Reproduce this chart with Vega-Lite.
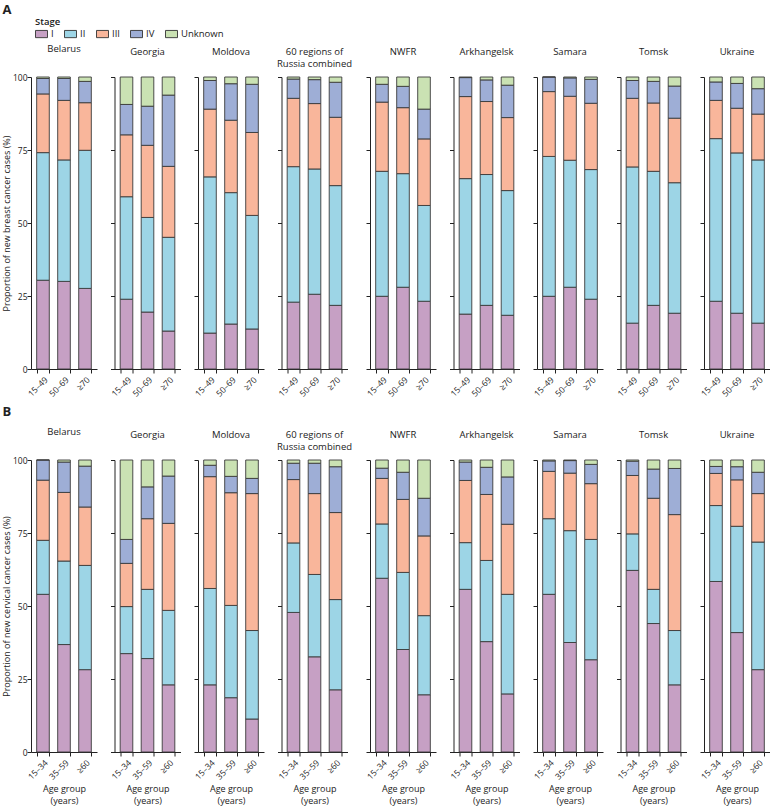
{
"$schema": "https://vega.github.io/schema/vega-lite/v6.json",
"padding": {"left": 2, "top": 4, "right": 0, "bottom": 0},
"datasets": {
"breast": [
{"r":"Belarus","a":"15–49","I":30.4,"II":43.7,"III":20.1,"IV":5.3,"Unknown":0.5},
{"r":"Belarus","a":"50–69","I":30.0,"II":41.6,"III":20.4,"IV":7.5,"Unknown":0.5},
{"r":"Belarus","a":"≥70","I":27.6,"II":47.3,"III":16.3,"IV":7.3,"Unknown":1.5},
{"r":"Georgia","a":"15–49","I":23.9,"II":35.1,"III":21.2,"IV":10.4,"Unknown":9.4},
{"r":"Georgia","a":"50–69","I":19.5,"II":32.4,"III":24.7,"IV":13.4,"Unknown":10.0},
{"r":"Georgia","a":"≥70","I":13.0,"II":32.1,"III":24.3,"IV":24.4,"Unknown":6.2},
{"r":"Moldova","a":"15–49","I":12.3,"II":53.5,"III":23.2,"IV":9.8,"Unknown":1.2},
{"r":"Moldova","a":"50–69","I":15.4,"II":45.0,"III":24.8,"IV":12.5,"Unknown":2.3},
{"r":"Moldova","a":"≥70","I":13.7,"II":38.9,"III":28.4,"IV":16.5,"Unknown":2.5},
{"r":"Russia60","a":"15–49","I":22.9,"II":46.4,"III":23.4,"IV":6.6,"Unknown":0.7},
{"r":"Russia60","a":"50–69","I":25.6,"II":42.9,"III":22.4,"IV":8.2,"Unknown":0.9},
{"r":"Russia60","a":"≥70","I":21.8,"II":41.0,"III":23.4,"IV":12.0,"Unknown":1.8},
{"r":"NWFR","a":"15–49","I":24.9,"II":42.8,"III":23.7,"IV":6.1,"Unknown":2.5},
{"r":"NWFR","a":"50–69","I":28.0,"II":38.9,"III":22.6,"IV":7.3,"Unknown":3.2},
{"r":"NWFR","a":"≥70","I":23.2,"II":32.8,"III":22.8,"IV":10.2,"Unknown":11.0},
{"r":"Arkhangelsk","a":"15–49","I":18.8,"II":46.4,"III":28.1,"IV":6.5,"Unknown":0.2},
{"r":"Arkhangelsk","a":"50–69","I":21.8,"II":44.8,"III":25.0,"IV":7.4,"Unknown":1.0},
{"r":"Arkhangelsk","a":"≥70","I":18.4,"II":42.7,"III":25.0,"IV":11.1,"Unknown":2.8},
{"r":"Samara","a":"15–49","I":24.9,"II":47.9,"III":22.2,"IV":5.0,"Unknown":0},
{"r":"Samara","a":"50–69","I":28.0,"II":43.5,"III":21.9,"IV":6.3,"Unknown":0.3},
{"r":"Samara","a":"≥70","I":23.9,"II":44.4,"III":22.7,"IV":8.2,"Unknown":0.8},
{"r":"Tomsk","a":"15–49","I":15.7,"II":53.5,"III":23.5,"IV":6.1,"Unknown":1.2},
{"r":"Tomsk","a":"50–69","I":21.8,"II":45.9,"III":23.4,"IV":7.4,"Unknown":1.5},
{"r":"Tomsk","a":"≥70","I":19.1,"II":44.7,"III":22.1,"IV":11.0,"Unknown":3.1},
{"r":"Ukraine","a":"15–49","I":23.2,"II":55.7,"III":13.1,"IV":6.3,"Unknown":1.7},
{"r":"Ukraine","a":"50–69","I":19.1,"II":54.9,"III":15.3,"IV":8.5,"Unknown":2.2},
{"r":"Ukraine","a":"≥70","I":15.7,"II":55.9,"III":15.7,"IV":8.7,"Unknown":4.0}
],
"cervical": [
{"r":"Belarus","a":"15–34","I":54.0,"II":18.5,"III":20.6,"IV":6.9,"Unknown":0},
{"r":"Belarus","a":"35–59","I":36.8,"II":28.6,"III":23.5,"IV":10.4,"Unknown":0.7},
{"r":"Belarus","a":"≥60","I":28.2,"II":35.7,"III":20.0,"IV":14.0,"Unknown":2.1},
{"r":"Georgia","a":"15–34","I":33.7,"II":16.1,"III":14.8,"IV":8.2,"Unknown":27.2},
{"r":"Georgia","a":"35–59","I":32.0,"II":23.7,"III":24.2,"IV":10.9,"Unknown":9.2},
{"r":"Georgia","a":"≥60","I":23.0,"II":25.5,"III":29.8,"IV":16.2,"Unknown":5.5},
{"r":"Moldova","a":"15–34","I":23.0,"II":33.0,"III":38.3,"IV":3.9,"Unknown":1.8},
{"r":"Moldova","a":"35–59","I":18.6,"II":31.6,"III":38.6,"IV":5.6,"Unknown":5.6},
{"r":"Moldova","a":"≥60","I":11.3,"II":30.3,"III":46.9,"IV":5.2,"Unknown":6.3},
{"r":"Russia60","a":"15–34","I":47.8,"II":23.8,"III":21.7,"IV":5.6,"Unknown":1.1},
{"r":"Russia60","a":"35–59","I":32.6,"II":28.2,"III":27.7,"IV":10.4,"Unknown":1.1},
{"r":"Russia60","a":"≥60","I":21.3,"II":30.9,"III":29.8,"IV":15.7,"Unknown":2.3},
{"r":"NWFR","a":"15–34","I":59.5,"II":18.6,"III":15.6,"IV":3.5,"Unknown":2.8},
{"r":"NWFR","a":"35–59","I":35.1,"II":26.4,"III":25.0,"IV":9.3,"Unknown":4.2},
{"r":"NWFR","a":"≥60","I":19.6,"II":27.1,"III":27.3,"IV":12.9,"Unknown":13.1},
{"r":"Arkhangelsk","a":"15–34","I":55.7,"II":16.0,"III":21.3,"IV":6.3,"Unknown":0.7},
{"r":"Arkhangelsk","a":"35–59","I":37.8,"II":27.8,"III":22.6,"IV":9.3,"Unknown":2.5},
{"r":"Arkhangelsk","a":"≥60","I":19.9,"II":34.1,"III":24.0,"IV":16.2,"Unknown":5.8},
{"r":"Samara","a":"15–34","I":54.0,"II":25.9,"III":16.2,"IV":3.6,"Unknown":0.3},
{"r":"Samara","a":"35–59","I":37.5,"II":38.3,"III":19.7,"IV":4.3,"Unknown":0.2},
{"r":"Samara","a":"≥60","I":31.6,"II":41.2,"III":19.1,"IV":6.6,"Unknown":1.5},
{"r":"Tomsk","a":"15–34","I":62.2,"II":12.5,"III":20.0,"IV":4.9,"Unknown":0.4},
{"r":"Tomsk","a":"35–59","I":44.0,"II":11.7,"III":31.2,"IV":10.0,"Unknown":3.1},
{"r":"Tomsk","a":"≥60","I":23.0,"II":18.6,"III":39.7,"IV":15.8,"Unknown":2.9},
{"r":"Ukraine","a":"15–34","I":58.4,"II":26.0,"III":11.0,"IV":2.4,"Unknown":2.2},
{"r":"Ukraine","a":"35–59","I":40.9,"II":36.4,"III":15.9,"IV":4.5,"Unknown":2.3},
{"r":"Ukraine","a":"≥60","I":28.2,"II":43.7,"III":16.6,"IV":7.3,"Unknown":4.2}
]
},
"title": {"text": "A", "anchor": "start", "fontSize": 13, "fontWeight": "bold", "offset": 0},
"spacing": 7,
"vconcat": [
{"spacing": 12.5, "hconcat": [
{"data":{"name":"breast"},"transform":[{"filter":"datum.r==='Belarus'"},{"fold":["I","II","III","IV","Unknown"],"as":["Stage","value"]}],"title":{"text":["Belarus"," "]},"mark":"bar","encoding":{"x":{"field":"a","type":"nominal","sort":["15–49","50–69","≥70"],"title":null},"y":{"field":"value","type":"quantitative","stack":"zero","scale":{"domain":[0,100]},"axis":{"values":[0,25,50,75,100]},"title":"Proportion of new breast cancer cases (%)"},"color":{"field":"Stage","type":"nominal","title":"Stage"},"order":{"field":"Stage","sort":"ascending"}}},
{"data":{"name":"breast"},"transform":[{"filter":"datum.r==='Georgia'"},{"fold":["I","II","III","IV","Unknown"],"as":["Stage","value"]}],"title":{"text":["Georgia"," "]},"mark":"bar","encoding":{"x":{"field":"a","type":"nominal","sort":["15–49","50–69","≥70"],"title":null},"y":{"field":"value","type":"quantitative","stack":"zero","scale":{"domain":[0,100]},"title":null,"axis":{"labels":false,"values":[0,25,50,75,100]}},"color":{"field":"Stage","type":"nominal","title":"Stage"},"order":{"field":"Stage","sort":"ascending"}}},
{"data":{"name":"breast"},"transform":[{"filter":"datum.r==='Moldova'"},{"fold":["I","II","III","IV","Unknown"],"as":["Stage","value"]}],"title":{"text":["Moldova"," "]},"mark":"bar","encoding":{"x":{"field":"a","type":"nominal","sort":["15–49","50–69","≥70"],"title":null},"y":{"field":"value","type":"quantitative","stack":"zero","scale":{"domain":[0,100]},"title":null,"axis":{"labels":false,"values":[0,25,50,75,100]}},"color":{"field":"Stage","type":"nominal","title":"Stage"},"order":{"field":"Stage","sort":"ascending"}}},
{"data":{"name":"breast"},"transform":[{"filter":"datum.r==='Russia60'"},{"fold":["I","II","III","IV","Unknown"],"as":["Stage","value"]}],"title":{"text":["60 regions of","Russia combined"]},"mark":"bar","encoding":{"x":{"field":"a","type":"nominal","sort":["15–49","50–69","≥70"],"title":null},"y":{"field":"value","type":"quantitative","stack":"zero","scale":{"domain":[0,100]},"title":null,"axis":{"labels":false,"values":[0,25,50,75,100]}},"color":{"field":"Stage","type":"nominal","title":"Stage"},"order":{"field":"Stage","sort":"ascending"}}},
{"data":{"name":"breast"},"transform":[{"filter":"datum.r==='NWFR'"},{"fold":["I","II","III","IV","Unknown"],"as":["Stage","value"]}],"title":{"text":["NWFR"," "]},"mark":"bar","encoding":{"x":{"field":"a","type":"nominal","sort":["15–49","50–69","≥70"],"title":null},"y":{"field":"value","type":"quantitative","stack":"zero","scale":{"domain":[0,100]},"title":null,"axis":{"labels":false,"values":[0,25,50,75,100]}},"color":{"field":"Stage","type":"nominal","title":"Stage"},"order":{"field":"Stage","sort":"ascending"}}},
{"data":{"name":"breast"},"transform":[{"filter":"datum.r==='Arkhangelsk'"},{"fold":["I","II","III","IV","Unknown"],"as":["Stage","value"]}],"title":{"text":["Arkhangelsk"," "]},"mark":"bar","encoding":{"x":{"field":"a","type":"nominal","sort":["15–49","50–69","≥70"],"title":null},"y":{"field":"value","type":"quantitative","stack":"zero","scale":{"domain":[0,100]},"title":null,"axis":{"labels":false,"values":[0,25,50,75,100]}},"color":{"field":"Stage","type":"nominal","title":"Stage"},"order":{"field":"Stage","sort":"ascending"}}},
{"data":{"name":"breast"},"transform":[{"filter":"datum.r==='Samara'"},{"fold":["I","II","III","IV","Unknown"],"as":["Stage","value"]}],"title":{"text":["Samara"," "]},"mark":"bar","encoding":{"x":{"field":"a","type":"nominal","sort":["15–49","50–69","≥70"],"title":null},"y":{"field":"value","type":"quantitative","stack":"zero","scale":{"domain":[0,100]},"title":null,"axis":{"labels":false,"values":[0,25,50,75,100]}},"color":{"field":"Stage","type":"nominal","title":"Stage"},"order":{"field":"Stage","sort":"ascending"}}},
{"data":{"name":"breast"},"transform":[{"filter":"datum.r==='Tomsk'"},{"fold":["I","II","III","IV","Unknown"],"as":["Stage","value"]}],"title":{"text":["Tomsk"," "]},"mark":"bar","encoding":{"x":{"field":"a","type":"nominal","sort":["15–49","50–69","≥70"],"title":null},"y":{"field":"value","type":"quantitative","stack":"zero","scale":{"domain":[0,100]},"title":null,"axis":{"labels":false,"values":[0,25,50,75,100]}},"color":{"field":"Stage","type":"nominal","title":"Stage"},"order":{"field":"Stage","sort":"ascending"}}},
{"data":{"name":"breast"},"transform":[{"filter":"datum.r==='Ukraine'"},{"fold":["I","II","III","IV","Unknown"],"as":["Stage","value"]}],"title":{"text":["Ukraine"," "]},"mark":"bar","encoding":{"x":{"field":"a","type":"nominal","sort":["15–49","50–69","≥70"],"title":null},"y":{"field":"value","type":"quantitative","stack":"zero","scale":{"domain":[0,100]},"title":null,"axis":{"labels":false,"values":[0,25,50,75,100]}},"color":{"field":"Stage","type":"nominal","title":"Stage"},"order":{"field":"Stage","sort":"ascending"}}}
]},
{"title": {"text": "B", "anchor": "start", "fontSize": 13, "fontWeight": "bold", "offset": 8}, "spacing": 12.5, "hconcat": [
{"data":{"name":"cervical"},"transform":[{"filter":"datum.r==='Belarus'"},{"fold":["I","II","III","IV","Unknown"],"as":["Stage","value"]}],"title":{"text":["Belarus"," "]},"mark":"bar","encoding":{"x":{"field":"a","type":"nominal","sort":["15–34","35–59","≥60"],"title":["Age group","(years)"]},"y":{"field":"value","type":"quantitative","stack":"zero","scale":{"domain":[0,100]},"axis":{"values":[0,25,50,75,100]},"title":"Proportion of new cervical cancer cases (%)"},"color":{"field":"Stage","type":"nominal","title":"Stage"},"order":{"field":"Stage","sort":"ascending"}}},
{"data":{"name":"cervical"},"transform":[{"filter":"datum.r==='Georgia'"},{"fold":["I","II","III","IV","Unknown"],"as":["Stage","value"]}],"title":{"text":["Georgia"," "]},"mark":"bar","encoding":{"x":{"field":"a","type":"nominal","sort":["15–34","35–59","≥60"],"title":["Age group","(years)"]},"y":{"field":"value","type":"quantitative","stack":"zero","scale":{"domain":[0,100]},"title":null,"axis":{"labels":false,"values":[0,25,50,75,100]}},"color":{"field":"Stage","type":"nominal","title":"Stage"},"order":{"field":"Stage","sort":"ascending"}}},
{"data":{"name":"cervical"},"transform":[{"filter":"datum.r==='Moldova'"},{"fold":["I","II","III","IV","Unknown"],"as":["Stage","value"]}],"title":{"text":["Moldova"," "]},"mark":"bar","encoding":{"x":{"field":"a","type":"nominal","sort":["15–34","35–59","≥60"],"title":["Age group","(years)"]},"y":{"field":"value","type":"quantitative","stack":"zero","scale":{"domain":[0,100]},"title":null,"axis":{"labels":false,"values":[0,25,50,75,100]}},"color":{"field":"Stage","type":"nominal","title":"Stage"},"order":{"field":"Stage","sort":"ascending"}}},
{"data":{"name":"cervical"},"transform":[{"filter":"datum.r==='Russia60'"},{"fold":["I","II","III","IV","Unknown"],"as":["Stage","value"]}],"title":{"text":["60 regions of","Russia combined"]},"mark":"bar","encoding":{"x":{"field":"a","type":"nominal","sort":["15–34","35–59","≥60"],"title":["Age group","(years)"]},"y":{"field":"value","type":"quantitative","stack":"zero","scale":{"domain":[0,100]},"title":null,"axis":{"labels":false,"values":[0,25,50,75,100]}},"color":{"field":"Stage","type":"nominal","title":"Stage"},"order":{"field":"Stage","sort":"ascending"}}},
{"data":{"name":"cervical"},"transform":[{"filter":"datum.r==='NWFR'"},{"fold":["I","II","III","IV","Unknown"],"as":["Stage","value"]}],"title":{"text":["NWFR"," "]},"mark":"bar","encoding":{"x":{"field":"a","type":"nominal","sort":["15–34","35–59","≥60"],"title":["Age group","(years)"]},"y":{"field":"value","type":"quantitative","stack":"zero","scale":{"domain":[0,100]},"title":null,"axis":{"labels":false,"values":[0,25,50,75,100]}},"color":{"field":"Stage","type":"nominal","title":"Stage"},"order":{"field":"Stage","sort":"ascending"}}},
{"data":{"name":"cervical"},"transform":[{"filter":"datum.r==='Arkhangelsk'"},{"fold":["I","II","III","IV","Unknown"],"as":["Stage","value"]}],"title":{"text":["Arkhangelsk"," "]},"mark":"bar","encoding":{"x":{"field":"a","type":"nominal","sort":["15–34","35–59","≥60"],"title":["Age group","(years)"]},"y":{"field":"value","type":"quantitative","stack":"zero","scale":{"domain":[0,100]},"title":null,"axis":{"labels":false,"values":[0,25,50,75,100]}},"color":{"field":"Stage","type":"nominal","title":"Stage"},"order":{"field":"Stage","sort":"ascending"}}},
{"data":{"name":"cervical"},"transform":[{"filter":"datum.r==='Samara'"},{"fold":["I","II","III","IV","Unknown"],"as":["Stage","value"]}],"title":{"text":["Samara"," "]},"mark":"bar","encoding":{"x":{"field":"a","type":"nominal","sort":["15–34","35–59","≥60"],"title":["Age group","(years)"]},"y":{"field":"value","type":"quantitative","stack":"zero","scale":{"domain":[0,100]},"title":null,"axis":{"labels":false,"values":[0,25,50,75,100]}},"color":{"field":"Stage","type":"nominal","title":"Stage"},"order":{"field":"Stage","sort":"ascending"}}},
{"data":{"name":"cervical"},"transform":[{"filter":"datum.r==='Tomsk'"},{"fold":["I","II","III","IV","Unknown"],"as":["Stage","value"]}],"title":{"text":["Tomsk"," "]},"mark":"bar","encoding":{"x":{"field":"a","type":"nominal","sort":["15–34","35–59","≥60"],"title":["Age group","(years)"]},"y":{"field":"value","type":"quantitative","stack":"zero","scale":{"domain":[0,100]},"title":null,"axis":{"labels":false,"values":[0,25,50,75,100]}},"color":{"field":"Stage","type":"nominal","title":"Stage"},"order":{"field":"Stage","sort":"ascending"}}},
{"data":{"name":"cervical"},"transform":[{"filter":"datum.r==='Ukraine'"},{"fold":["I","II","III","IV","Unknown"],"as":["Stage","value"]}],"title":{"text":["Ukraine"," "]},"mark":"bar","encoding":{"x":{"field":"a","type":"nominal","sort":["15–34","35–59","≥60"],"title":["Age group","(years)"]},"y":{"field":"value","type":"quantitative","stack":"zero","scale":{"domain":[0,100]},"title":null,"axis":{"labels":false,"values":[0,25,50,75,100]}},"color":{"field":"Stage","type":"nominal","title":"Stage"},"order":{"field":"Stage","sort":"ascending"}}}
]}
],
"config": {
"font": "Open Sans",
"view": {"stroke": null, "discreteWidth": 66, "continuousHeight": 292},
"range": {"category": ["#c6a0c4", "#9dd5e6", "#f9b69b", "#9eaed6", "#cae2b3"]},
"scale": {"bandPaddingInner": 0.4, "bandPaddingOuter": 0.27},
"bar": {"stroke": "#3a3a3a", "strokeWidth": 0.9},
"title": {"fontSize": 9.5, "fontWeight": "normal", "color": "#222", "anchor": "middle", "offset": 8, "lineHeight": 12},
"axis": {"domainColor": "#222", "tickColor": "#222", "labelColor": "#222", "titleColor": "#222", "labelFontSize": 8.5, "titleFontSize": 9, "titleFontWeight": "normal", "grid": false, "tickSize": 4},
"axisY": {"labelPadding": 0, "titlePadding": 1},
"axisX": {"labelAngle": -45, "tickBand": "extent", "labelPadding": 2, "titlePadding": 4, "titleLineHeight": 12},
"legend": {"orient": "none", "legendX": 4, "legendY": -60, "direction": "horizontal", "titleFontSize": 9.5, "titleFontWeight": 600, "titleColor": "#222", "labelFontSize": 9.5, "labelColor": "#222", "symbolType": "M-1,-0.6H1V0.6H-1Z", "symbolStrokeColor": "#333", "symbolStrokeWidth": 1, "symbolSize": 144, "symbolOpacity": 1, "columnPadding": 8, "labelOffset": 3, "titlePadding": 1}
}
}
